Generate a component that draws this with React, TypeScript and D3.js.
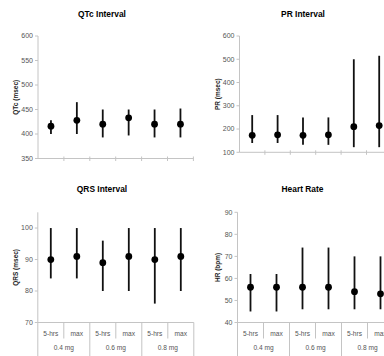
import React, { useEffect, useRef } from "react";
import * as d3 from "d3";

const groups = ["0.4 mg", "0.6 mg", "0.8 mg"];
const times = ["5-hrs", "max"];

const qtcMid = [416, 428, 420, 433, 420, 420];
const qtcLow = [400, 400, 393, 397, 393, 393];
const qtcHigh = [428, 465, 450, 450, 450, 452];

const prMid = [173, 175, 173, 175, 210, 215];
const prLow = [140, 140, 132, 132, 122, 122];
const prHigh = [260, 260, 250, 250, 500, 515];

const qrsMid = [90, 91, 89, 91, 90, 91];
const qrsLow = [84, 84, 80, 80, 76, 80];
const qrsHigh = [100, 100, 96, 100, 100, 100];

const hrMid = [56, 56, 56, 56, 54, 53];
const hrLow = [45, 45, 46, 46, 46, 46];
const hrHigh = [62, 62, 74, 74, 70, 70];

const qtcTicks = [350, 400, 450, 500, 550, 600];
const prTicks = [100, 200, 300, 400, 500, 600];
const qrsTicks = [70, 80, 90, 100];
const hrTicks = [40, 50, 60, 70, 80, 90];

interface Panel {
  title: string;
  yLabel: string;
  mid: number[];
  low: number[];
  high: number[];
  domain: [number, number];
  ticks: number[];
  x0: number;
  band: number;
  top: number;
  bottom: number;
  titleX: number;
  titleY: number;
  labelX: number;
  cats: boolean;
}

const panels: Panel[] = [
  { title: "QTc Interval", yLabel: "QTc (msec)", mid: qtcMid, low: qtcLow, high: qtcHigh,
    domain: [350, 600], ticks: qtcTicks, x0: 38, band: 25.9, top: 36, bottom: 158.5,
    titleX: 102, titleY: 16.5, labelX: 15.5, cats: false },
  { title: "PR Interval", yLabel: "PR (msec)", mid: prMid, low: prLow, high: prHigh,
    domain: [100, 600], ticks: prTicks, x0: 239.5, band: 25.4, top: 36, bottom: 152.3,
    titleX: 303, titleY: 16.5, labelX: 217.5, cats: false },
  { title: "QRS Interval", yLabel: "QRS (msec)", mid: qrsMid, low: qrsLow, high: qrsHigh,
    domain: [70, 105], ticks: qrsTicks, x0: 37.8, band: 26, top: 212.3, bottom: 322.5,
    titleX: 102, titleY: 192, labelX: 15.5, cats: true },
  { title: "Heart Rate", yLabel: "HR (bpm)", mid: hrMid, low: hrLow, high: hrHigh,
    domain: [40, 90], ticks: hrTicks, x0: 237.5, band: 26, top: 212.3, bottom: 322.5,
    titleX: 302.5, titleY: 192, labelX: 217.5, cats: true },
];

const W = 384;
const H = 356;
const FONT = "'Liberation Sans', Arial, sans-serif";
const AXIS = "#c4c4c4";
const TXT = "#555";

export default function App() {
  const svgRef = useRef<SVGSVGElement | null>(null);

  useEffect(() => {
    if (!svgRef.current) return;
    const svg = d3.select(svgRef.current);
    svg.selectAll("*").remove();

    const cats = groups.flatMap((g) => times.map((t) => `${g}|${t}`));

    panels.forEach((p) => {
      const g = svg.append("g").attr("font-family", FONT);
      const x = d3
        .scaleBand<string>()
        .domain(cats)
        .range([p.x0, p.x0 + p.band * cats.length])
        .padding(0);
      const y = d3.scaleLinear().domain(p.domain).range([p.bottom, p.top]);

      // title
      g.append("text")
        .attr("x", p.titleX)
        .attr("y", p.titleY)
        .attr("text-anchor", "middle")
        .attr("font-size", 8.4)
        .attr("font-weight", "bold")
        .attr("fill", "#000")
        .text(p.title);

      // y axis line
      g.append("line")
        .attr("x1", p.x0)
        .attr("x2", p.x0)
        .attr("y1", p.top)
        .attr("y2", p.cats ? H : p.bottom)
        .attr("stroke", AXIS)
        .attr("stroke-width", 1);

      // y ticks
      const yt = g.selectAll(".yt").data(p.ticks).join("g").attr("class", "yt");
      yt.append("line")
        .attr("x1", p.x0 - 3)
        .attr("x2", p.x0)
        .attr("y1", (d) => y(d))
        .attr("y2", (d) => y(d))
        .attr("stroke", AXIS);
      yt.append("text")
        .attr("x", p.x0 - 5)
        .attr("y", (d) => y(d))
        .attr("dy", "0.35em")
        .attr("text-anchor", "end")
        .attr("font-size", 7)
        .attr("fill", TXT)
        .text((d) => d);

      // y label
      g.append("text")
        .attr("transform", `translate(${p.labelX},${(p.top + p.bottom) / 2}) rotate(-90)`)
        .attr("text-anchor", "middle")
        .attr("dy", "0.35em")
        .attr("font-size", 6.5)
        .attr("font-weight", "bold")
        .attr("fill", "#222")
        .text(p.yLabel);

      // x axis line
      const xEnd = p.x0 + p.band * cats.length;
      g.append("line")
        .attr("x1", p.x0)
        .attr("x2", xEnd)
        .attr("y1", p.bottom)
        .attr("y2", p.bottom)
        .attr("stroke", AXIS);

      const bounds = d3.range(1, cats.length + 1);
      if (!p.cats) {
        g.selectAll(".xt")
          .data(bounds)
          .join("line")
          .attr("x1", (i) => p.x0 + i * x.bandwidth())
          .attr("x2", (i) => p.x0 + i * x.bandwidth())
          .attr("y1", p.bottom - 2)
          .attr("y2", p.bottom + 2.5)
          .attr("stroke", AXIS);
      } else {
        g.selectAll(".sep")
          .data(bounds)
          .join("line")
          .attr("x1", (i) => p.x0 + i * x.bandwidth())
          .attr("x2", (i) => p.x0 + i * x.bandwidth())
          .attr("y1", p.bottom)
          .attr("y2", (i) => (i % 2 === 0 ? H : p.bottom + 16))
          .attr("stroke", AXIS);

        g.selectAll(".cat")
          .data(cats)
          .join("text")
          .attr("x", (d) => (x(d) ?? 0) + x.bandwidth() / 2)
          .attr("y", p.bottom + 13.5)
          .attr("text-anchor", "middle")
          .attr("font-size", 6.6)
          .attr("fill", TXT)
          .text((d) => d.split("|")[1]);

        g.selectAll(".grp")
          .data(groups)
          .join("text")
          .attr("x", (d) => (x(`${d}|${times[0]}`) ?? 0) + x.bandwidth())
          .attr("y", p.bottom + 27.5)
          .attr("text-anchor", "middle")
          .attr("font-size", 6.6)
          .attr("fill", TXT)
          .text((d) => d);
      }

      // error bars
      g.selectAll(".bar")
        .data(cats)
        .join("line")
        .attr("x1", (d) => (x(d) ?? 0) + x.bandwidth() / 2)
        .attr("x2", (d) => (x(d) ?? 0) + x.bandwidth() / 2)
        .attr("y1", (d, i) => y(p.low[i]))
        .attr("y2", (d, i) => y(p.high[i]))
        .attr("stroke", "#111")
        .attr("stroke-width", 1.8);

      g.selectAll(".dot")
        .data(cats)
        .join("circle")
        .attr("cx", (d) => (x(d) ?? 0) + x.bandwidth() / 2)
        .attr("cy", (d, i) => y(p.mid[i]))
        .attr("r", 3.4)
        .attr("fill", "#000");
    });
  }, []);

  return (
    <svg
      ref={svgRef}
      width={W}
      height={H}
      style={{ position: "absolute", left: 0, top: 0, background: "#fff" }}
    />
  );
}
